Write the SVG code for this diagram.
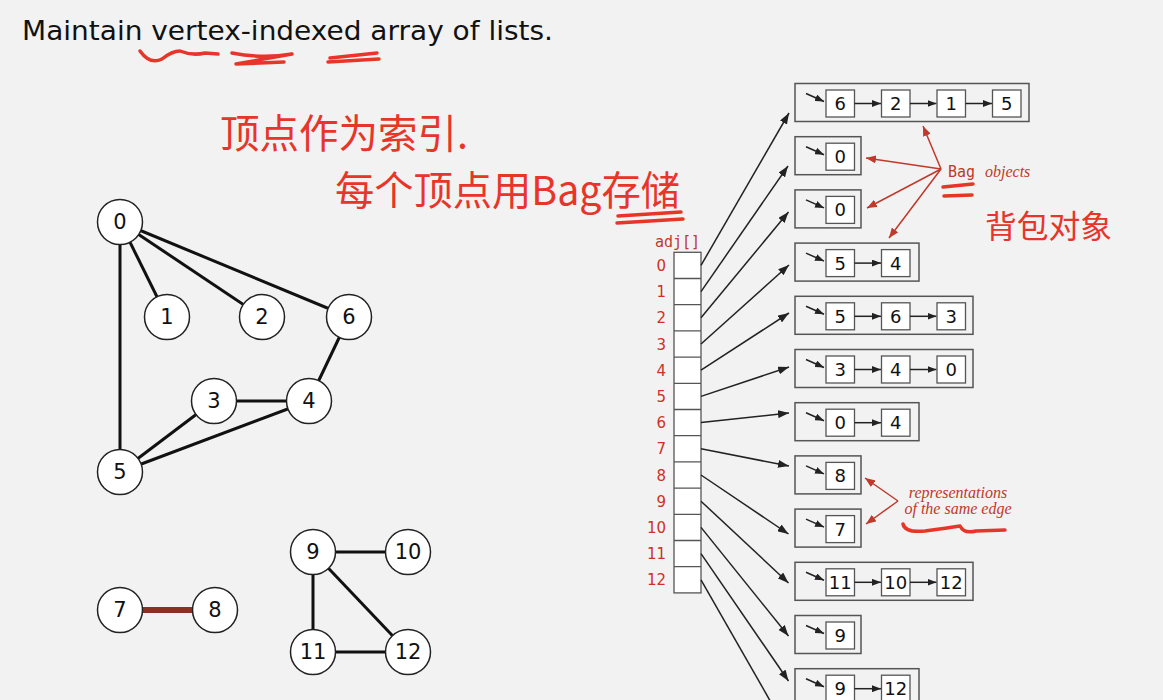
<svg xmlns="http://www.w3.org/2000/svg" width="1163" height="700" viewBox="0 0 1163 700">
<defs>
<style>
.title{font-family:"DejaVu Sans","Liberation Sans",sans-serif;font-size:27px;fill:#111}
.nd circle{fill:#fff;stroke:#222;stroke-width:1.5}
.nd text{font-family:"DejaVu Sans","Liberation Sans",sans-serif;font-size:21px;fill:#111;text-anchor:middle}
.edge{stroke:#111;stroke-width:3;fill:none}
.outer{fill:none;stroke:#555;stroke-width:1.5}
.cell{fill:#fff;stroke:#555;stroke-width:1.3}
.val{font-family:"DejaVu Sans","Liberation Sans",sans-serif;font-size:18px;fill:#111;text-anchor:middle}
.idx{font-family:"DejaVu Sans","Liberation Sans",sans-serif;font-size:15px;fill:#cc3322;text-anchor:end}
.mono{font-family:"DejaVu Sans Mono","Liberation Mono",monospace;font-size:15px;fill:#c0392b}
.ital{font-family:"Liberation Serif","DejaVu Serif",serif;font-style:italic;font-size:16px;fill:#c0392b}
.conn{stroke:#222;stroke-width:1.5;fill:none;marker-end:url(#ah)}
.ptr{stroke:#222;stroke-width:1.5;fill:none;marker-end:url(#ahs)}
.red{stroke:#c0392b;stroke-width:1.5;fill:none;marker-end:url(#ahr)}
.hw{font-family:"Noto Sans CJK SC","Noto Sans CJK JP",sans-serif;fill:#e8352a}
.scr{stroke:#e8352a;stroke-width:3.5;fill:none;stroke-linecap:round;stroke-linejoin:round}
</style>
<marker id="ah" markerUnits="userSpaceOnUse" markerWidth="11" markerHeight="8" refX="11" refY="4" orient="auto"><path d="M0,0 L11,4 L0,8 Z" fill="#222"/></marker>
<marker id="ahs" markerUnits="userSpaceOnUse" markerWidth="9" markerHeight="7" refX="9" refY="3.5" orient="auto"><path d="M0,0 L9,3.5 L0,7 Z" fill="#222"/></marker>
<marker id="ahr" markerUnits="userSpaceOnUse" markerWidth="10" markerHeight="8" refX="10" refY="4" orient="auto"><path d="M0,0 L10,4 L0,8 Z" fill="#c0392b"/></marker>
</defs>
<rect width="1163" height="700" fill="#f2f2f2"/>

<text class="title" x="22" y="40" textLength="531" lengthAdjust="spacingAndGlyphs">Maintain vertex-indexed array of lists.</text>

<g id="annotations">
<path class="scr" d="M140,51 Q150,65 162,59 Q172,51 180,51 Q192,56 205,53 L218,54"/>
<path class="scr" d="M232,53 Q262,59 292,54 L236,64 L284,62"/>
<path class="scr" d="M328,62 L379,59 M330,58 L377,53"/>
<text class="hw" x="220" y="148" font-size="40" textLength="248" lengthAdjust="spacingAndGlyphs">顶点作为索引.</text>
<text class="hw" x="335" y="205" font-size="40" textLength="345" lengthAdjust="spacingAndGlyphs">每个顶点用Bag存储</text>
<path class="scr" d="M618,216 L681,212 M617,223 L683,219"/>
<text class="hw" x="985" y="238" font-size="32" textLength="127" lengthAdjust="spacingAndGlyphs">背包对象</text>
<path class="scr" d="M943,187 L973,184 M944,196 L972,195"/>
<path class="scr" d="M903,524 Q905,533 925,531 Q948,528 960,526 Q964,534 976,531 L1005,530"/>
<text class="mono" x="948" y="177">Bag</text>
<text class="ital" x="985" y="177">objects</text>
<text class="ital" x="958" y="498" text-anchor="middle">representations</text>
<text class="ital" x="958" y="514" text-anchor="middle">of the same edge</text>
<path class="red" d="M941,169 L923,126"/>
<path class="red" d="M941,169 L866,158"/>
<path class="red" d="M941,169 L867,208"/>
<path class="red" d="M941,169 L889,238"/>
<path class="red" d="M898,501 L865,478"/>
<path class="red" d="M898,501 L866,524"/>
</g>

<g id="graph-edges">
<line class="edge" x1="120" y1="222" x2="167" y2="317"/>
<line class="edge" x1="120" y1="222" x2="262" y2="317"/>
<line class="edge" x1="120" y1="222" x2="349" y2="317"/>
<line class="edge" x1="120" y1="222" x2="120" y2="472"/>
<line class="edge" x1="349" y1="317" x2="309" y2="401"/>
<line class="edge" x1="214" y1="401" x2="309" y2="401"/>
<line class="edge" x1="214" y1="401" x2="120" y2="472"/>
<line class="edge" x1="309" y1="401" x2="120" y2="472"/>
<line x1="120" y1="610" x2="215" y2="610" stroke="#8b3022" stroke-width="6"/>
<line class="edge" x1="313" y1="552" x2="408" y2="552"/>
<line class="edge" x1="313" y1="552" x2="313" y2="652"/>
<line class="edge" x1="313" y1="552" x2="408" y2="652"/>
<line class="edge" x1="313" y1="652" x2="408" y2="652"/>
</g>

<g id="v0" class="nd"><circle cx="120" cy="222" r="22.5"/><text x="120" y="229">0</text></g>
<g id="v1" class="nd"><circle cx="167" cy="317" r="22.5"/><text x="167" y="324">1</text></g>
<g id="v2" class="nd"><circle cx="262" cy="317" r="22.5"/><text x="262" y="324">2</text></g>
<g id="v6" class="nd"><circle cx="349" cy="317" r="22.5"/><text x="349" y="324">6</text></g>
<g id="v3" class="nd"><circle cx="214" cy="401" r="22.5"/><text x="214" y="408">3</text></g>
<g id="v4" class="nd"><circle cx="309" cy="401" r="22.5"/><text x="309" y="408">4</text></g>
<g id="v5" class="nd"><circle cx="120" cy="472" r="22.5"/><text x="120" y="479">5</text></g>
<g id="v7" class="nd"><circle cx="120" cy="610" r="22.5"/><text x="120" y="617">7</text></g>
<g id="v8" class="nd"><circle cx="215" cy="610" r="22.5"/><text x="215" y="617">8</text></g>
<g id="v9" class="nd"><circle cx="313" cy="552" r="22.5"/><text x="313" y="559">9</text></g>
<g id="v10" class="nd"><circle cx="408" cy="552" r="22.5"/><text x="408" y="559">10</text></g>
<g id="v11" class="nd"><circle cx="313" cy="652" r="22.5"/><text x="313" y="659">11</text></g>
<g id="v12" class="nd"><circle cx="408" cy="652" r="22.5"/><text x="408" y="659">12</text></g>

<g id="adj">
<text class="mono" x="655" y="247">adj[]</text>
<rect class="cell" x="674" y="252.3" width="27" height="340.6"/>
<path d="M674,278.5 H701 M674,304.7 H701 M674,330.9 H701 M674,357.1 H701 M674,383.3 H701 M674,409.5 H701 M674,435.7 H701 M674,461.9 H701 M674,488.1 H701 M674,514.3 H701 M674,540.5 H701 M674,566.7 H701" stroke="#555" stroke-width="1.3"/>
<text class="idx" x="666" y="271">0</text>
<text class="idx" x="666" y="297">1</text>
<text class="idx" x="666" y="323">2</text>
<text class="idx" x="666" y="350">3</text>
<text class="idx" x="666" y="376">4</text>
<text class="idx" x="666" y="402">5</text>
<text class="idx" x="666" y="428">6</text>
<text class="idx" x="666" y="454">7</text>
<text class="idx" x="666" y="481">8</text>
<text class="idx" x="666" y="507">9</text>
<text class="idx" x="666" y="533">10</text>
<text class="idx" x="666" y="559">11</text>
<text class="idx" x="666" y="585">12</text>
</g>

<g id="connectors">
<line class="conn" x1="701" y1="265.4" x2="789" y2="113"/>
<line class="conn" x1="701" y1="291.6" x2="788" y2="166"/>
<line class="conn" x1="701" y1="317.8" x2="788.5" y2="212"/>
<line class="conn" x1="701" y1="344" x2="789" y2="265"/>
<line class="conn" x1="701" y1="370.2" x2="789" y2="313"/>
<line class="conn" x1="701" y1="396.4" x2="789" y2="367"/>
<line class="conn" x1="701" y1="422.6" x2="789" y2="413"/>
<line class="conn" x1="701" y1="448.8" x2="789" y2="466"/>
<line class="conn" x1="701" y1="475" x2="788.5" y2="534"/>
<line class="conn" x1="701" y1="501.2" x2="788.5" y2="583"/>
<line class="conn" x1="701" y1="527.4" x2="788.5" y2="636"/>
<line class="conn" x1="701" y1="553.6" x2="788.5" y2="681"/>
<line class="conn" x1="701" y1="579.8" x2="788.5" y2="733"/>
</g>

<g id="bag0" transform="translate(0,83.5)">
<rect class="outer" x="795" y="0" width="234" height="38"/>
<path class="ptr" d="M806,10 L824,18"/>
<rect class="cell" x="826" y="6.5" width="28.5" height="27"/><text class="val" x="840.2" y="26.5">6</text>
<path class="ptr" d="M854.5,20 H881"/>
<rect class="cell" x="881.5" y="6.5" width="28.5" height="27"/><text class="val" x="895.7" y="26.5">2</text>
<path class="ptr" d="M910,20 H936.5"/>
<rect class="cell" x="937" y="6.5" width="28.5" height="27"/><text class="val" x="951.2" y="26.5">1</text>
<path class="ptr" d="M965.5,20 H992"/>
<rect class="cell" x="992.5" y="6.5" width="28.5" height="27"/><text class="val" x="1006.7" y="26.5">5</text>
</g>
<g id="bag1" transform="translate(0,136.7)">
<rect class="outer" x="795" y="0" width="66" height="38"/>
<path class="ptr" d="M806,10 L824,18"/>
<rect class="cell" x="826" y="6.5" width="28.5" height="27"/><text class="val" x="840.2" y="26.5">0</text>
</g>
<g id="bag2" transform="translate(0,189.9)">
<rect class="outer" x="795" y="0" width="66" height="38"/>
<path class="ptr" d="M806,10 L824,18"/>
<rect class="cell" x="826" y="6.5" width="28.5" height="27"/><text class="val" x="840.2" y="26.5">0</text>
</g>
<g id="bag3" transform="translate(0,243.1)">
<rect class="outer" x="795" y="0" width="124" height="38"/>
<path class="ptr" d="M806,10 L824,18"/>
<rect class="cell" x="826" y="6.5" width="28.5" height="27"/><text class="val" x="840.2" y="26.5">5</text>
<path class="ptr" d="M854.5,20 H881"/>
<rect class="cell" x="881.5" y="6.5" width="28.5" height="27"/><text class="val" x="895.7" y="26.5">4</text>
</g>
<g id="bag4" transform="translate(0,296.3)">
<rect class="outer" x="795" y="0" width="178" height="38"/>
<path class="ptr" d="M806,10 L824,18"/>
<rect class="cell" x="826" y="6.5" width="28.5" height="27"/><text class="val" x="840.2" y="26.5">5</text>
<path class="ptr" d="M854.5,20 H881"/>
<rect class="cell" x="881.5" y="6.5" width="28.5" height="27"/><text class="val" x="895.7" y="26.5">6</text>
<path class="ptr" d="M910,20 H936.5"/>
<rect class="cell" x="937" y="6.5" width="28.5" height="27"/><text class="val" x="951.2" y="26.5">3</text>
</g>
<g id="bag5" transform="translate(0,349.5)">
<rect class="outer" x="795" y="0" width="178" height="38"/>
<path class="ptr" d="M806,10 L824,18"/>
<rect class="cell" x="826" y="6.5" width="28.5" height="27"/><text class="val" x="840.2" y="26.5">3</text>
<path class="ptr" d="M854.5,20 H881"/>
<rect class="cell" x="881.5" y="6.5" width="28.5" height="27"/><text class="val" x="895.7" y="26.5">4</text>
<path class="ptr" d="M910,20 H936.5"/>
<rect class="cell" x="937" y="6.5" width="28.5" height="27"/><text class="val" x="951.2" y="26.5">0</text>
</g>
<g id="bag6" transform="translate(0,402.7)">
<rect class="outer" x="795" y="0" width="124" height="38"/>
<path class="ptr" d="M806,10 L824,18"/>
<rect class="cell" x="826" y="6.5" width="28.5" height="27"/><text class="val" x="840.2" y="26.5">0</text>
<path class="ptr" d="M854.5,20 H881"/>
<rect class="cell" x="881.5" y="6.5" width="28.5" height="27"/><text class="val" x="895.7" y="26.5">4</text>
</g>
<g id="bag7" transform="translate(0,455.9)">
<rect class="outer" x="795" y="0" width="66" height="38"/>
<path class="ptr" d="M806,10 L824,18"/>
<rect class="cell" x="826" y="6.5" width="28.5" height="27"/><text class="val" x="840.2" y="26.5">8</text>
</g>
<g id="bag8" transform="translate(0,509.1)">
<rect class="outer" x="795" y="0" width="66" height="38"/>
<path class="ptr" d="M806,10 L824,18"/>
<rect class="cell" x="826" y="6.5" width="28.5" height="27"/><text class="val" x="840.2" y="26.5">7</text>
</g>
<g id="bag9" transform="translate(0,562.3)">
<rect class="outer" x="795" y="0" width="178" height="38"/>
<path class="ptr" d="M806,10 L824,18"/>
<rect class="cell" x="826" y="6.5" width="28.5" height="27"/><text class="val" x="840.2" y="26.5">11</text>
<path class="ptr" d="M854.5,20 H881"/>
<rect class="cell" x="881.5" y="6.5" width="28.5" height="27"/><text class="val" x="895.7" y="26.5">10</text>
<path class="ptr" d="M910,20 H936.5"/>
<rect class="cell" x="937" y="6.5" width="28.5" height="27"/><text class="val" x="951.2" y="26.5">12</text>
</g>
<g id="bag10" transform="translate(0,615.5)">
<rect class="outer" x="795" y="0" width="66" height="38"/>
<path class="ptr" d="M806,10 L824,18"/>
<rect class="cell" x="826" y="6.5" width="28.5" height="27"/><text class="val" x="840.2" y="26.5">9</text>
</g>
<g id="bag11" transform="translate(0,668.7)">
<rect class="outer" x="795" y="0" width="124" height="38"/>
<path class="ptr" d="M806,10 L824,18"/>
<rect class="cell" x="826" y="6.5" width="28.5" height="27"/><text class="val" x="840.2" y="26.5">9</text>
<path class="ptr" d="M854.5,20 H881"/>
<rect class="cell" x="881.5" y="6.5" width="28.5" height="27"/><text class="val" x="895.7" y="26.5">12</text>
</g>
</svg>
